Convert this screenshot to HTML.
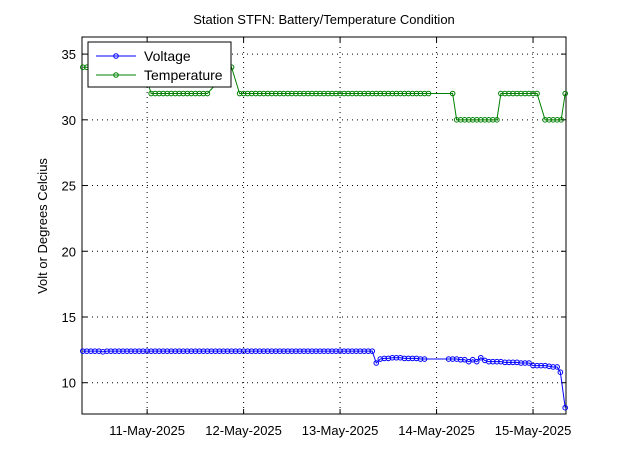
<!DOCTYPE html>
<html><head><meta charset="utf-8">
<style>
body{margin:0;background:#fff;font-family:"Liberation Sans",sans-serif;}
svg text{font-family:"Liberation Sans",sans-serif;font-size:13px;fill:#000;}
</style></head>
<body>
<svg id="chart" width="623" height="466" xmlns="http://www.w3.org/2000/svg">
<rect x="0" y="0" width="623" height="466" fill="#fff"/>
</svg>
<script>
const xTickHours = [24, 48, 72, 96, 120];
const xTickLabels = ["11-May-2025","12-May-2025","13-May-2025","14-May-2025","15-May-2025"];
const yTicks = [10, 15, 20, 25, 30, 35];
const tempTimes = [8,9,10,11,12,13,14,15,16,17,18,19,20,21,22,23,
25,26,27,28,29,30,31,32,33,34,35,36,37,38,39,45,
47,48,49,50,51,52,53,54,55,56,57,58,59,60,61,62,63,64,65,66,67,68,69,70,71,72,73,74,75,76,77,78,79,80,81,82,83,84,85,86,87,88,89,90,91,92,93,94,
100,101,102,103,104,105,106,107,108,109,110,111,
112,113,114,115,116,117,118,119,120,121,
123,124,125,126,127,128];
const tempValues = [34,34,34,34,34,34,34,34,34,34,34,34,34,34,34,34,
32,32,32,32,32,32,32,32,32,32,32,32,32,32,32,34,
32,32,32,32,32,32,32,32,32,32,32,32,32,32,32,32,32,32,32,32,32,32,32,32,32,32,32,32,32,32,32,32,32,32,32,32,32,32,32,32,32,32,32,32,32,32,32,32,
32,30,30,30,30,30,30,30,30,30,30,30,
32,32,32,32,32,32,32,32,32,32,
30,30,30,30,30,32];
const voltTimes = [8,9,10,11,12,13,14,15,16,17,18,19,20,21,22,23,24,25,26,27,28,29,30,31,32,33,34,35,36,37,38,39,40,41,42,43,44,45,46,47,48,49,50,51,52,53,54,55,56,57,58,59,60,61,62,63,64,65,66,67,68,69,70,71,72,73,74,75,76,77,78,79,80,
81,82,83,84,85,86,87,88,89,90,91,92,93,
99,100,101,102,103,104,105,106,107,108,109,110,111,112,113,114,115,116,117,118,119,
120,121,122,123,124,125,126,126.8,128];
const voltValues = [12.4,12.4,12.4,12.4,12.4,12.35,12.4,12.4,12.4,12.4,12.4,12.4,12.4,12.4,12.4,12.4,12.4,12.4,12.4,12.4,12.4,12.4,12.4,12.4,12.4,12.4,12.4,12.4,12.4,12.4,12.4,12.4,12.4,12.4,12.4,12.4,12.4,12.4,12.4,12.4,12.4,12.4,12.4,12.4,12.4,12.4,12.4,12.4,12.4,12.4,12.4,12.4,12.4,12.4,12.4,12.4,12.4,12.4,12.4,12.4,12.4,12.4,12.4,12.4,12.4,12.4,12.4,12.4,12.4,12.4,12.4,12.4,12.4,
11.5,11.8,11.85,11.85,11.9,11.9,11.9,11.85,11.85,11.85,11.85,11.8,11.8,
11.8,11.8,11.8,11.75,11.75,11.6,11.75,11.6,11.9,11.7,11.6,11.6,11.6,11.6,11.55,11.55,11.55,11.55,11.5,11.5,11.5,
11.3,11.3,11.3,11.3,11.25,11.2,11.2,10.8,8.1];

const svg = document.getElementById('chart');
const NS = 'http://www.w3.org/2000/svg';
const L=82, R=566, T=37, B=414;
const xMin=7.8, xMax=128.2, yMin=7.62, yMax=36.3;
function sx(h){return L+(h-xMin)/(xMax-xMin)*(R-L);}
function sy(v){return B-(v-yMin)/(yMax-yMin)*(B-T);}
function el(tag, attrs, parent){const e=document.createElementNS(NS,tag);for(const k in attrs)e.setAttribute(k,attrs[k]);(parent||svg).appendChild(e);return e;}

const grid = el('g',{});


xTickHours.forEach((h,i)=>{
  const x=sx(h);
  el('line',{x1:x,x2:x,y1:T,y2:B,stroke:'#000','stroke-dasharray':'1,4','stroke-width':1},grid);
  el('line',{x1:x,x2:x,y1:B,y2:B-5,stroke:'#000'},grid);
  el('line',{x1:x,x2:x,y1:T,y2:T+5,stroke:'#000'},grid);
  const t=el('text',{x:x,y:435,'text-anchor':'middle'});
  t.textContent=xTickLabels[i];
  
  
});
yTicks.forEach(v=>{
  const y=sy(v);
  el('line',{x1:L,x2:R,y1:y,y2:y,stroke:'#000','stroke-dasharray':'1,4','stroke-width':1},grid);
  el('line',{x1:L,x2:L+5,y1:y,y2:y,stroke:'#000'},grid);
  el('line',{x1:R,x2:R-5,y1:y,y2:y,stroke:'#000'},grid);
  const t=el('text',{x:76,y:y+5,'text-anchor':'end'});
  t.textContent=v;
  
  
});
const frame=el('rect',{x:L,y:T,width:R-L,height:B-T,fill:'none',stroke:'#000'});



function series(times, vals, color, name){
  const g=el('g',{});
  
  
  el('polyline',{points:times.map((t,i)=>sx(t)+','+sy(vals[i])).join(' '),fill:'none',stroke:color,'stroke-width':1},g);
  times.forEach((t,i)=>{
    const c=el('circle',{cx:sx(t),cy:sy(vals[i]),r:2.3,fill:'none',stroke:color,'stroke-width':1},g);
    
    
  });
}
series(voltTimes, voltValues, '#0000ff', 'voltage-series');
series(tempTimes, tempValues, '#008000', 'temperature-series');

const title=el('text',{x:324,y:24,'text-anchor':'middle'});
title.textContent='Station STFN: Battery/Temperature Condition';


const yl=el('text',{x:0,y:0,'text-anchor':'middle',transform:'translate(47,226) rotate(-90)'});
yl.textContent='Volt or Degrees Celcius';



const lg=el('g',{});


el('rect',{x:88,y:42,width:143,height:45,fill:'#fff',stroke:'#000'},lg);
[['Voltage','#0000ff',56],['Temperature','#008000',75]].forEach(([n,c,y])=>{
  const e=el('g',{},lg);
  
  
  el('line',{x1:96,x2:136,y1:y,y2:y,stroke:c},e);
  el('circle',{cx:116,cy:y,r:2.3,fill:'none',stroke:c},e);
  const t=el('text',{x:144,y:y+5},e);
  t.textContent=n;
  t.setAttribute('style','font-size:14px');
});
</script>
</body></html>
